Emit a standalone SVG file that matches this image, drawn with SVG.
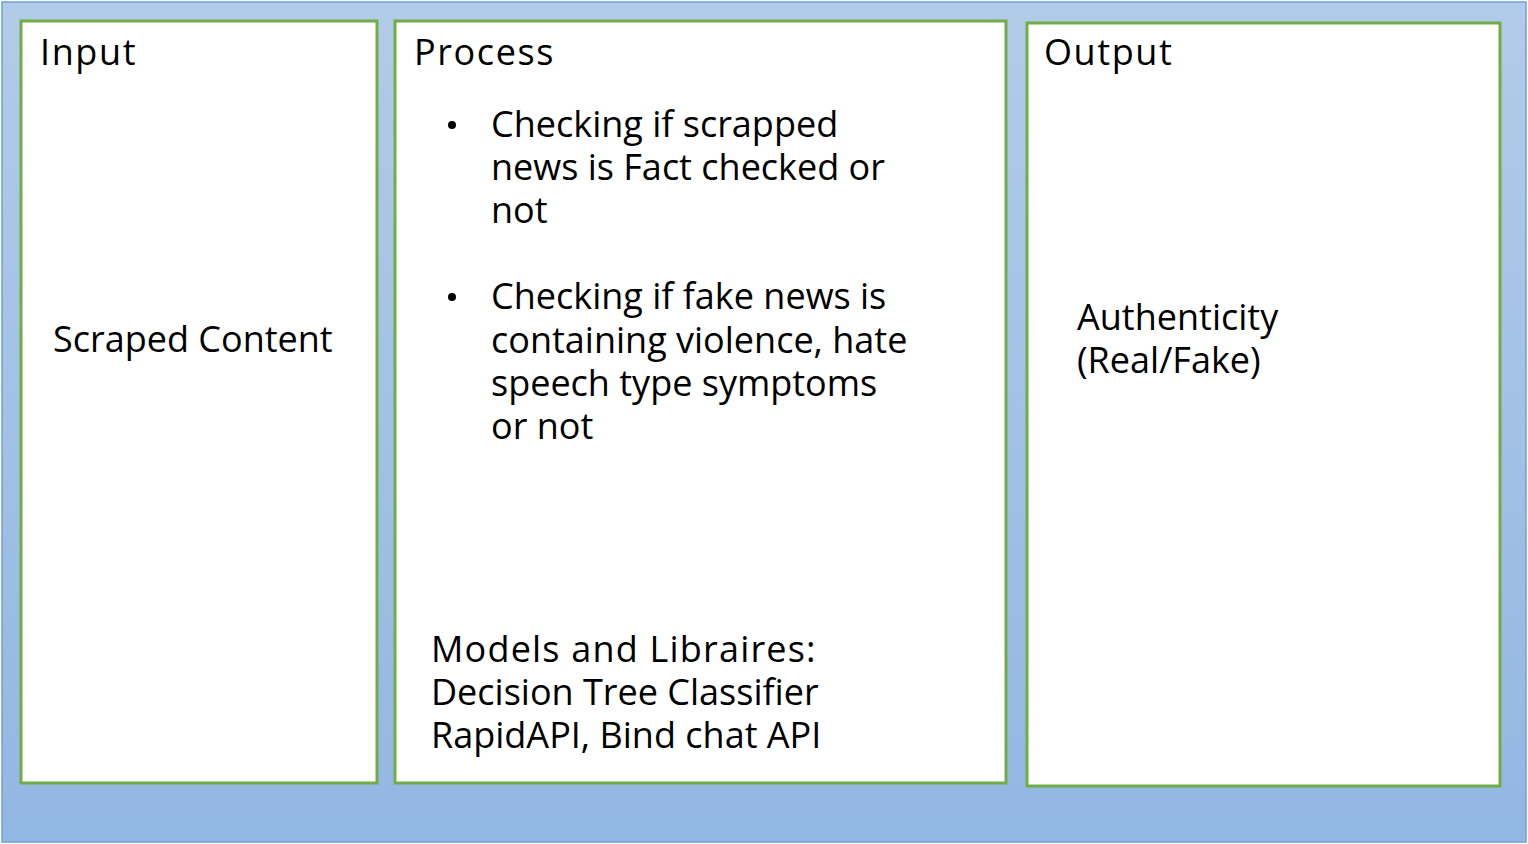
<svg xmlns="http://www.w3.org/2000/svg" width="1528" height="844" viewBox="0 0 1528 844">
<defs>
<linearGradient id="bg" x1="0" y1="0" x2="0" y2="1">
<stop offset="0" stop-color="#b2cbe8"/>
<stop offset="1" stop-color="#92b7e2"/>
</linearGradient>
<style>
.box{fill:#ffffff;stroke:#70ad47;stroke-width:3}
.t{font-family:"Open Sans","Noto Sans",sans-serif;font-size:36px;fill:#000000}
.sp{letter-spacing:1.6px}
.sp2{letter-spacing:1.2px}
</style>
</defs>
<rect x="0" y="0" width="1528" height="844" fill="#ffffff"/>
<rect x="2" y="2" width="1524" height="840" fill="url(#bg)" stroke="#6fa0d8" stroke-width="1.5"/>
<g id="input">
<rect class="box" x="21" y="21" width="356" height="762"/>
<text class="t sp" x="40" y="65">Input</text>
<text class="t" x="53" y="352">Scraped Content</text>
</g>
<g id="process">
<rect class="box" x="395" y="21" width="611" height="762"/>
<text class="t sp" x="414" y="65">Process</text>
<circle cx="452" cy="125" r="4" fill="#000"/>
<text class="t" x="491" y="137">Checking if scrapped<tspan x="491" dy="43">news is Fact checked or</tspan><tspan x="491" dy="43">not</tspan></text>
<circle cx="452" cy="297" r="4" fill="#000"/>
<text class="t" x="491" y="309">Checking if fake news is<tspan x="491" dy="44">containing violence, hate</tspan><tspan x="491" dy="43">speech type symptoms</tspan><tspan x="491" dy="43">or not</tspan></text>
<text class="t" x="431" y="662"><tspan class="sp2">Models and Libraires:</tspan><tspan x="431" dy="43">Decision Tree Classifier</tspan><tspan x="431" dy="43">RapidAPI, Bind chat API</tspan></text>
</g>
<g id="output">
<rect class="box" x="1027" y="23" width="473" height="763"/>
<text class="t sp" x="1044" y="65">Output</text>
<text class="t" x="1077" y="330">Authenticity<tspan x="1077" dy="43">(Real/Fake)</tspan></text>
</g>
<g id="connectors"></g>
</svg>
